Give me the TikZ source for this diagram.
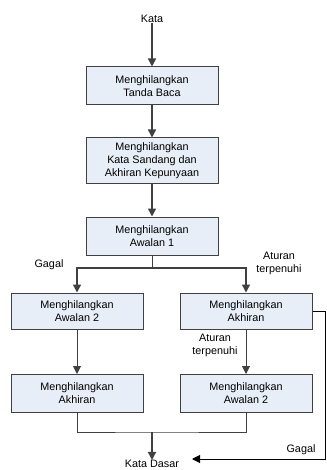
\documentclass[tikz,border=0pt]{standalone}
\usepackage{fontspec}
\setmainfont{Liberation Sans}
\usetikzlibrary{arrows.meta}
\definecolor{boxfill}{RGB}{232,238,247}
\definecolor{edge}{RGB}{64,64,64}
\begin{document}
\begin{tikzpicture}[x=0.75pt,y=-0.75pt,
  txt/.style={font=\fontsize{8.1}{9.75}\selectfont, align=center, inner sep=0pt},
  box/.style={txt, draw=edge, fill=boxfill, line width=0.75pt, minimum width=99pt, minimum height=28.5pt},
  arr/.style={draw=edge, line width=1.1pt, -{Triangle[length=6pt,width=6pt]}},
  ln/.style={draw=edge, line width=0.75pt},
  thinarr/.style={draw=black, line width=0.75pt, -{Triangle[length=6pt,width=6pt]}}
]
\useasboundingbox (0,0) rectangle (327,470);

\node[txt] (kata) at (152,19) {Kata};
\node[box] (b1) at (152,86) {Menghilangkan\\Tanda Baca};
\node[box, minimum height=34.5pt] (b2) at (152,161) {Menghilangkan\\Kata Sandang dan\\Akhiran Kepunyaan};
\node[box] (b3) at (152,236) {Menghilangkan\\Awalan 1};
\node[box, minimum height=27pt] (b4) at (77,311) {Menghilangkan\\Awalan 2};
\node[box, minimum height=27pt] (b5) at (246,311) {Menghilangkan\\Akhiran};
\node[box] (b6) at (77,393.5) {Menghilangkan\\Akhiran};
\node[box] (b7) at (246,393.5) {Menghilangkan\\Awalan 2};
\node[txt] (dasar) at (152,464) {Kata Dasar};

\node[txt] (g1) at (49,265) {Gagal};
\node[txt] (a1) at (279,263) {Aturan\\terpenuhi};
\node[txt] (a2) at (215,345) {Aturan\\terpenuhi};
\node[txt] (g2) at (301,450) {Gagal};

\draw[arr] (kata) -- (b1.north);
\draw[arr] (b1) -- (b2.north);
\draw[arr] (b2) -- (b3.north);
\coordinate (split) at (152,268);
\draw[ln] (b3.south) -- (split);
\draw[arr] (split) -| (b4.north);
\draw[arr] (split) -| (b5.north);
\draw[arr, line width=0.75pt] (b4) -- (b6.north);
\draw[arr, line width=0.75pt] (b5) -- (b7.north);
\coordinate (join) at (152,432);
\draw[ln] (b6.south) |- (join) -| (b7.south);
\draw[arr] (join) -- (dasar.north);
\coordinate (gr) at (325,311);
\coordinate (gt) at (192,459);
\draw[thinarr] (b5.east) -- (gr) |- (gt);
\end{tikzpicture}
\end{document}
